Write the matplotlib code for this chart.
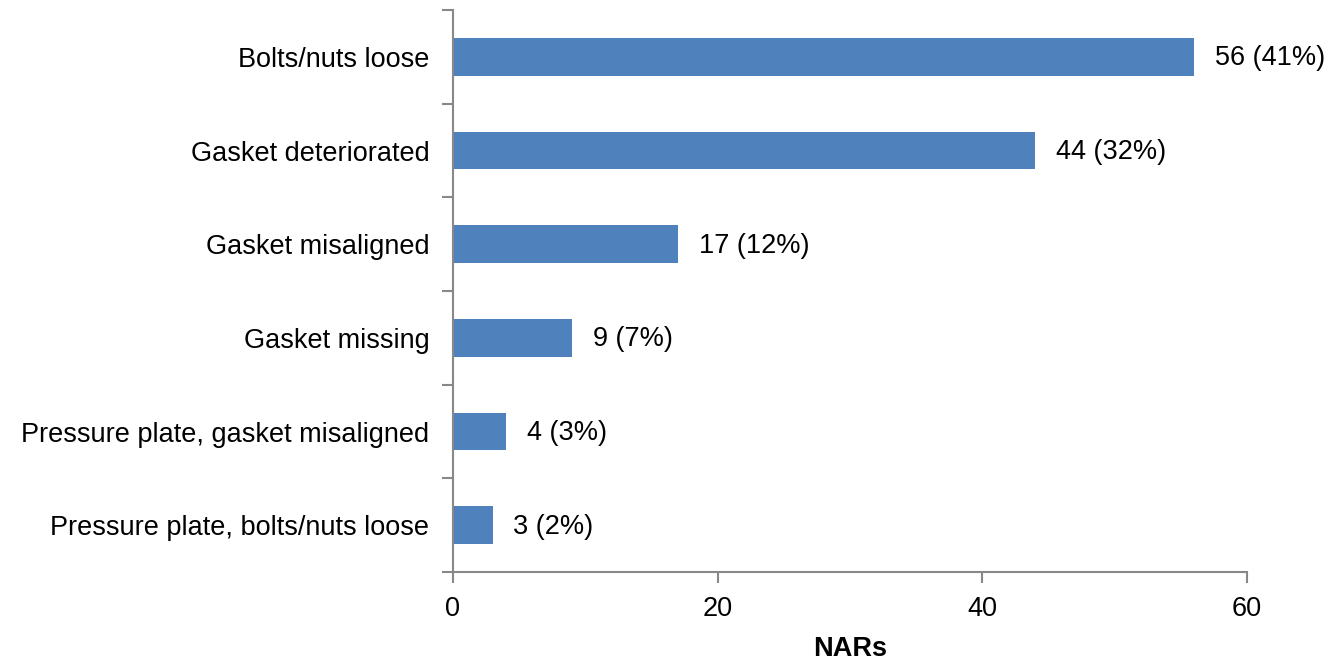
import matplotlib.pyplot as plt

plt.rcParams['font.family'] = ['Liberation Sans', 'DejaVu Sans']

# Categories and counts (top to bottom)
categories = ['Bolts/nuts loose', 'Gasket deteriorated', 'Gasket misaligned',
              'Gasket missing', 'Pressure plate, gasket misaligned',
              'Pressure plate, bolts/nuts loose']
counts = [56, 44, 17, 9, 4, 3]
percents = [41, 32, 12, 7, 3, 2]
xticks = [0, 20, 40, 60]

fs = 19.5

fig = plt.figure(figsize=(13.33, 6.59), dpi=100)
ax = fig.add_axes([0.3398, 0.132, 0.5957, 0.8528])

ypos = list(range(len(categories)))[::-1]
ax.barh(ypos, counts, height=0.4, color='#4F81BD')

for y, c, p in zip(ypos, counts, percents):
    ax.annotate(f'{c} ({p}%)', (c, y), xytext=(15, -1), textcoords='offset points',
                va='center', ha='left', fontsize=fs)

ax.set_xlim(0, 60)
ax.set_ylim(-0.5, len(categories) - 0.5)
ax.set_xticks(xticks)
ax.set_xticklabels([str(t) for t in xticks], fontsize=fs)
ax.set_yticks(ypos)
ax.set_yticklabels(categories, fontsize=fs)
ax.set_yticks([i - 0.5 for i in range(len(categories) + 1)], minor=True)
ax.tick_params(axis='y', which='major', length=0, pad=17)
ax.tick_params(axis='y', which='minor', length=8, color='#888888', width=1.5)
ax.tick_params(axis='x', length=8, color='#888888', width=1.5, pad=9)
ax.set_xlabel('NARs', fontsize=fs, fontweight='bold', labelpad=10)

for s in ['top', 'right']:
    ax.spines[s].set_visible(False)
for s in ['left', 'bottom']:
    ax.spines[s].set_color('#888888')
    ax.spines[s].set_linewidth(1.5)

fig.savefig('out.png', dpi=100)
